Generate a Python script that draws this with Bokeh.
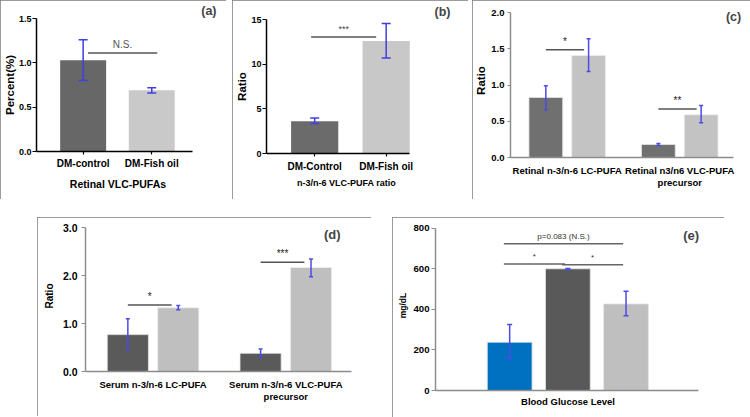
from bokeh.plotting import figure
from bokeh.models import Range1d, FixedTicker, Whisker, TeeHead, ColumnDataSource, Label, NumeralTickFormatter
from bokeh.embed import file_html
from bokeh.resources import INLINE
from bokeh.core.properties import value

# ---------------- data ----------------
# (a) Retinal VLC-PUFAs
a_cats = ["DM-control", "DM-Fish oil"]
a_vals = [1.03, 0.69]
a_lo = [0.80, 0.66]
a_hi = [1.26, 0.72]
a_sig = {"left": [0], "right": [1], "y": [1.11], "text": ["N.S."]}

# (b) n-3/n-6 VLC-PUFA ratio
b_cats = ["DM-Control", "DM-Fish oil"]
b_vals = [3.6, 12.6]
b_lo = [3.37, 10.7]
b_hi = [3.98, 14.55]
b_sig = {"left": [0], "right": [1], "y": [13.05], "text": ["***"]}

# (c) retinal ratios, two groups x (DM-control, DM-Fish oil)
c_groups = ["Retinal n-3/n-6 LC-PUFA", "Retinal n3/n6 VLC-PUFA\nprecursor"]
c_ctrl = [0.83, 0.18]
c_fish = [1.41, 0.59]
c_ctrl_lo = [0.66, 0.165]
c_ctrl_hi = [0.99, 0.195]
c_fish_lo = [1.19, 0.48]
c_fish_hi = [1.64, 0.72]
c_sig = {"group": [0, 1], "y": [1.49, 0.67], "text": ["*", "**"]}

# (d) serum ratios
d_groups = ["Serum n-3/n-6 LC-PUFA", "Serum n-3/n-6 VLC-PUFA\nprecursor"]
d_ctrl = [0.77, 0.38]
d_fish = [1.33, 2.17]
d_ctrl_lo = [0.45, 0.30]
d_ctrl_hi = [1.10, 0.47]
d_fish_lo = [1.29, 1.98]
d_fish_hi = [1.38, 2.35]
d_sig = {"group": [0, 1], "y": [1.39, 2.28], "text": ["*", "***"]}

# (e) blood glucose
e_vals = [238, 600, 427]
e_lo = [154, 597, 368]
e_hi = [325, 602, 489]
e_sig = {"left": [0, 0, 1], "right": [2, 1, 2], "y": [723, 624, 620],
         "text": ["p=0.083 (N.S.)", "*", "*"]}

# ---------------- styles ----------------
SANS = "Liberation Sans"
ERR = "#3f3fe0"


def base_fig(left, top, w, h, borders, xr, yr, xb, yb, yticks, fmt, axis_col):
    styles = {"position": "absolute", "left": f"{left}px", "top": f"{top}px",
              "outline": "1.5px solid #7a7a7a", "outline-offset": "-1.5px"}
    p = figure(width=w, height=h, x_range=Range1d(*xr), y_range=Range1d(*yr),
               output_backend="svg", toolbar_location=None,
               min_border_left=borders[0], min_border_right=borders[1],
               min_border_top=borders[2], min_border_bottom=borders[3],
               styles=styles)
    p.grid.visible = False
    p.outline_line_color = None
    p.xaxis.bounds = xb
    p.yaxis.bounds = yb
    p.yaxis.ticker = FixedTicker(ticks=yticks)
    if fmt:
        p.yaxis.formatter = NumeralTickFormatter(format=fmt)
    for ax in (p.xaxis[0], p.yaxis[0]):
        ax.axis_line_color = axis_col
        ax.axis_line_width = 1.5
        ax.major_tick_line_color = axis_col
        ax.major_tick_line_width = 1.2
        ax.major_tick_in = 0
        ax.major_tick_out = 4
        ax.minor_tick_line_color = None
        ax.major_label_text_font = SANS
        ax.major_label_text_font_style = "bold"
        ax.major_label_text_color = "black"
        ax.axis_label_text_font = SANS
        ax.axis_label_text_font_style = "bold"
        ax.axis_label_text_color = "black"
    return p


def whiskers(p, xs, lo, hi, size, col=ERR, lw=1.5):
    src = ColumnDataSource(dict(x=xs, lo=lo, hi=hi))
    w = Whisker(source=src, base="x", lower="lo", upper="hi", level="overlay",
                line_color=col, line_width=lw,
                upper_head=TeeHead(size=size, line_color=col, line_width=lw),
                lower_head=TeeHead(size=size, line_color=col, line_width=lw))
    p.add_layout(w)


def sig_marks(p, x0, x1, ys, texts, size, col="#555555", tcol="#444444", off=-3):
    p.segment(x0=x0, x1=x1, y0=ys, y1=ys, line_color=col, line_width=1.5)
    xm = [(a + b) / 2 for a, b in zip(x0, x1)]
    p.text(x=xm, y=ys, text=texts, text_align="center", text_baseline="bottom",
           y_offset=off, text_font=value(SANS), text_font_size=size, text_color=tcol)


def tag(p, x, y, t, size="12.5px"):
    p.add_layout(Label(x=x, y=y, text=t, text_font=SANS, text_font_style="bold",
                       text_font_size=size, text_align="center", text_baseline="middle"))


def title_tag(p, t, offset, size="12.5px"):
    p.title.text = t
    p.title.align = "right"
    p.title.offset = offset
    p.title.standoff = 0
    p.title.text_font = SANS
    p.title.text_font_style = "bold"
    p.title.text_font_size = size
    p.title.vertical_align = "middle"


# ---------- panel a ----------
pa = base_fig(0, 0, 226, 199, (35, 27, 18, 48), (-0.68, 1.696), (0, 1.5),
              (-0.68, 1.594), (0, 1.5), [0, 0.5, 1.0, 1.5], "0.0", "black")
xa = list(range(len(a_cats)))
pa.vbar(x=xa, top=a_vals, width=0.67, fill_color=["#676767", "#c9c9c9"], line_color=None)
whiskers(pa, xa, a_lo, a_hi, 9)
sig_marks(pa, [xa[i] + 0.07 for i in a_sig["left"]], [xa[i] + 0.08 for i in a_sig["right"]],
          a_sig["y"], a_sig["text"], "10px", col="#555555", tcol="#555555")
pa.xaxis.ticker = FixedTicker(ticks=xa)
pa.xaxis.major_label_overrides = {i: c for i, c in zip(xa, a_cats)}
pa.xaxis.major_tick_out = 3
pa.xaxis.major_label_text_font_size = "10px"
pa.xaxis.major_label_standoff = 3
pa.xaxis.axis_label = "Retinal VLC-PUFAs"
pa.xaxis.axis_label_text_font_size = "10.5px"
pa.xaxis.axis_label_standoff = 6
pa.yaxis.major_label_text_font_size = "9px"
pa.yaxis.major_label_standoff = 1
pa.yaxis.axis_label = "Percent(%)"
pa.yaxis.axis_label_text_font_size = "11.5px"
pa.yaxis.axis_label_standoff = 0
title_tag(pa, "(a)", -17)

# ---------- panel b ----------
pb = base_fig(232, 0, 236, 199, (34, 42, 19, 46), (-0.674, 1.564), (0, 15),
              (-0.674, 1.326), (0, 15), [0, 5, 10, 15], None, "black")
xb = list(range(len(b_cats)))
pb.vbar(x=xb, top=b_vals, width=0.66, fill_color=["#6b6b6b", "#c8c8c8"], line_color=None)
whiskers(pb, xb, b_lo, b_hi, 9)
sig_marks(pb, [xb[i] - 0.05 for i in b_sig["left"]], [xb[i] - 0.14 for i in b_sig["right"]],
          b_sig["y"], b_sig["text"], "9px")
pb.xaxis.ticker = FixedTicker(ticks=xb)
pb.xaxis.major_label_overrides = {i: c for i, c in zip(xb, b_cats)}
pb.xaxis.major_tick_out = 3
pb.xaxis.major_label_text_font_size = "10px"
pb.xaxis.major_label_standoff = 4
pb.xaxis.axis_label = "n-3/n-6 VLC-PUFA ratio"
pb.xaxis.axis_label_text_font_size = "9px"
pb.xaxis.axis_label_standoff = 3
pb.yaxis.major_label_text_font_size = "9px"
pb.yaxis.major_label_standoff = 1
pb.yaxis.axis_label = "Ratio"
pb.yaxis.axis_label_text_font_size = "11.5px"
pb.yaxis.axis_label_standoff = 0
title_tag(pb, "(b)", -24)

# ---------- panel c ----------
pc = base_fig(472, 0, 278, 199, (37, 3, 3, 42), (-0.504, 1.602), (0, 2.128),
              (-0.504, 1.478), (0, 2.0), [0, 0.5, 1.0, 1.5, 2.0], "0.0", "#8c8c8c")
gc = list(range(len(c_groups)))
off_c = 0.19
pc.vbar(x=[g - off_c for g in gc], top=c_ctrl, width=0.30, fill_color="#707070", line_color="#e6e6e6", line_width=0.8)
pc.vbar(x=[g + off_c for g in gc], top=c_fish, width=0.30, fill_color="#c3c3c3", line_color="#eeeeee", line_width=0.8)
whiskers(pc, [g - off_c for g in gc], c_ctrl_lo, c_ctrl_hi, 4, "#4b4be6")
whiskers(pc, [g + off_c for g in gc], c_fish_lo, c_fish_hi, 4, "#4b4be6")
sig_marks(pc, [gc[g] - off_c for g in c_sig["group"]], [gc[g] + off_c - 0.04 for g in c_sig["group"]],
          c_sig["y"], c_sig["text"], "10px", col="#555555", tcol="#222222")
pc.xaxis.ticker = FixedTicker(ticks=gc)
pc.xaxis.major_label_overrides = {i: c for i, c in zip(gc, c_groups)}
pc.xaxis.major_tick_out = 0
pc.xaxis.major_label_text_font_size = "9.5px"
pc.xaxis.major_label_text_line_height = 1.15
pc.xaxis.major_label_standoff = 7
pc.yaxis.major_tick_out = 3
pc.yaxis.major_label_text_font_size = "9.5px"
pc.yaxis.major_label_standoff = 3
pc.yaxis.axis_label = "Ratio"
pc.yaxis.axis_label_text_font_size = "11.5px"
pc.yaxis.axis_label_standoff = 1
tag(pc, 1.478, 1.94, "(c)")

# ---------- panel d ----------
pd_ = base_fig(37, 217, 334, 199, (48, 20, 3, 45), (-0.509, 1.495), (0, 3.152),
               (-0.509, 1.495), (0, 3.0), [0, 1, 2, 3], "0.0", "#8c8c8c")
gd = list(range(len(d_groups)))
off_d = 0.19
pd_.vbar(x=[g - off_d for g in gd], top=d_ctrl, width=0.31, fill_color="#5a5a5a", line_color="#e6e6e6", line_width=0.8)
pd_.vbar(x=[g + off_d for g in gd], top=d_fish, width=0.31, fill_color="#bfbfbf", line_color="#eeeeee", line_width=0.8)
whiskers(pd_, [g - off_d for g in gd], d_ctrl_lo, d_ctrl_hi, 4, "#4b4be6")
whiskers(pd_, [g + off_d for g in gd], d_fish_lo, d_fish_hi, 4, "#4b4be6")
sig_marks(pd_, [gd[g] - off_d for g in d_sig["group"]], [gd[g] + off_d - 0.05 for g in d_sig["group"]],
          d_sig["y"], d_sig["text"], "10px", col="#555555", tcol="#222222")
pd_.xaxis.ticker = FixedTicker(ticks=gd)
pd_.xaxis.major_label_overrides = {i: c for i, c in zip(gd, d_groups)}
pd_.xaxis.major_tick_out = 0
pd_.xaxis.major_label_text_font_size = "9.5px"
pd_.xaxis.major_label_text_line_height = 1.1
pd_.xaxis.major_label_standoff = 7
pd_.yaxis.major_tick_out = 4
pd_.yaxis.major_label_text_font_size = "10.5px"
pd_.yaxis.major_label_standoff = 4
pd_.yaxis.axis_label = "Ratio"
pd_.yaxis.axis_label_text_font_size = "10px"
pd_.yaxis.axis_label_standoff = 5
tag(pd_, 1.35, 2.86, "(d)", "13px")

# ---------- panel e ----------
pe = base_fig(392, 217, 332, 200, (43, 24, 3, 27), (-1.275, 3.28), (0, 838),
              (-1.275, 3.246), (0, 800), [0, 200, 400, 600, 800], None, "#8c8c8c")
xe = list(range(len(e_vals)))
pe.vbar(x=xe, top=e_vals, width=0.77, fill_color=["#0070c0", "#595959", "#bfbfbf"],
        line_color="#e6e6e6", line_width=0.8)
whiskers(pe, xe, e_lo, e_hi, 5, "#4b4be6")
sig_marks(pe, [xe[i] - 0.1 for i in e_sig["left"]], [xe[i] - 0.05 for i in e_sig["right"]],
          e_sig["y"], e_sig["text"], "8px", col="#666666", tcol="#333333")
pe.xaxis.ticker = FixedTicker(ticks=[])
pe.xaxis.axis_label = "Blood Glucose Level"
pe.xaxis.axis_label_text_font_size = "9.5px"
pe.xaxis.axis_label_standoff = 5
pe.yaxis.major_tick_out = 4
pe.yaxis.major_label_text_font_size = "9.6px"
pe.yaxis.major_label_standoff = 2
pe.yaxis.axis_label = "mg/dL"
pe.yaxis.axis_label_text_font_size = "8.5px"
pe.yaxis.axis_label_standoff = 2
tag(pe, 3.12, 764, "(e)", "13px")

open("out.html", "w").write(file_html([pa, pb, pc, pd_, pe], INLINE))
